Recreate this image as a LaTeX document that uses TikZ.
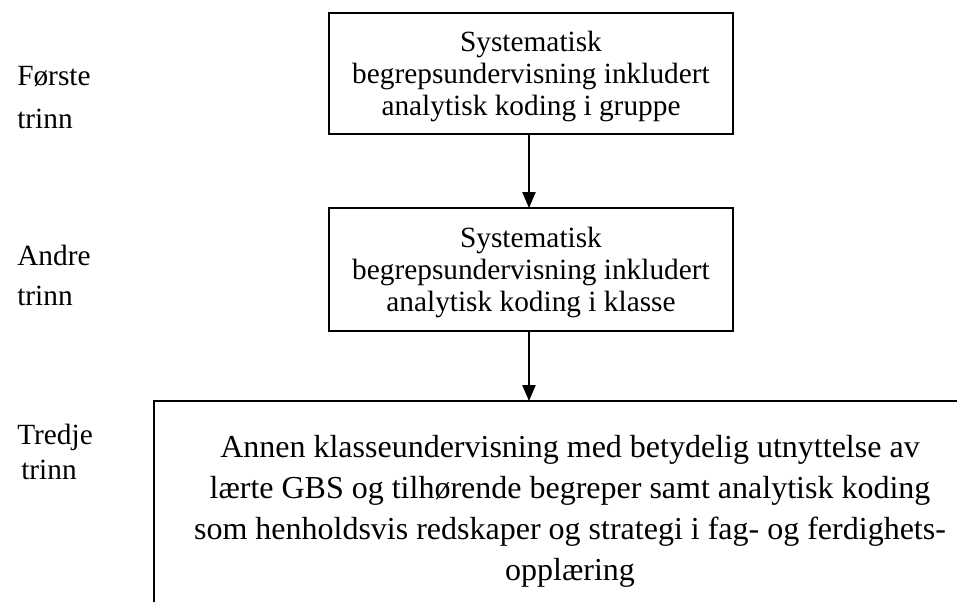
\documentclass[tikz,border=0pt]{standalone}
\usepackage{fontspec}
\setmainfont{Liberation Serif}
\usetikzlibrary{arrows.meta}
\begin{document}
\begin{tikzpicture}[x=0.75pt,y=-0.75pt,
 box/.style={draw, line width=1.1pt, inner sep=0pt, outer sep=0pt},
 boxtext/.style={align=center, font=\fontsize{22}{24}\selectfont, inner sep=0pt},
 bigtext/.style={align=center, font=\fontsize{24}{30.75}\selectfont, inner sep=0pt},
 lbl/.style={anchor=base west, font=\fontsize{22}{24}\selectfont, inner sep=0pt},
 arr/.style={line width=1pt, -{Triangle[width=10pt,length=12pt]}}]
\useasboundingbox (0,0) rectangle (957,601);
\clip (0,0) rectangle (957,601);
% boxes
\node[box, minimum width=303pt, minimum height=90.75pt] (b1) at (531,73.5) {};
\node[box, minimum width=303pt, minimum height=92.25pt] (b2) at (531,269.5) {};
\node[box, minimum width=634.5pt, minimum height=194.25pt] (b3) at (577,530.5) {};
% texts
\node[boxtext] (t1) at ([yshift=-2pt]b1.center) {Systematisk\\begrepsundervisning inkludert\\analytisk koding i gruppe};
\node[boxtext] (t2) at ([yshift=-2pt]b2.center) {Systematisk\\begrepsundervisning inkludert\\analytisk koding i klasse};
\node[bigtext] (t3) at (570,511) {Annen klasseundervisning med betydelig utnyttelse av\\lærte GBS og tilhørende begreper samt analytisk koding\\som henholdsvis redskaper og strategi i fag- og ferdighets-\\opplæring};
% connectors
\draw[arr] ([xshift=-1.5pt]b1.south) -- ([xshift=-1.5pt]b2.north);
\draw[arr] ([xshift=-1.5pt]b2.south) -- ([xshift=-1.5pt]b2.south |- b3.north);
% stage labels
\node[lbl] (l1a) at (17,85) {Første};
\node[lbl] (l1b) at (17,128) {trinn};
\node[lbl] (l2a) at (17,265) {Andre};
\node[lbl] (l2b) at (17,305) {trinn};
\node[lbl] (l3a) at (17,444) {Tredje};
\node[lbl] (l3b) at (21,479) {trinn};
\end{tikzpicture}
\end{document}
